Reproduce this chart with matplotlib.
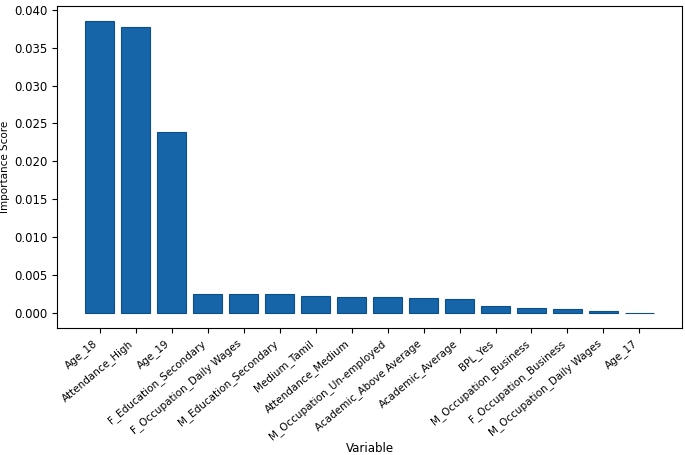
import matplotlib
matplotlib.use("Agg")
import matplotlib.pyplot as plt

variables = [
    "Age_18", "Attendance_High", "Age_19", "F_Education_Secondary",
    "F_Occupation_Daily Wages", "M_Education_Secondary", "Medium_Tamil",
    "Attendance_Medium", "M_Occupation_Un-employed", "Academic_Above Average",
    "Academic_Average", "BPL_Yes", "M_Occupation_Business",
    "F_Occupation_Business", "M_Occupation_Daily Wages", "Age_17",
]
importance = [
    0.0386, 0.0377, 0.0239, 0.0025, 0.0025, 0.0024, 0.0022, 0.0021,
    0.0021, 0.0019, 0.0018, 0.0009, 0.0006, 0.0005, 0.0002, -0.0001,
]

fig, ax = plt.subplots(figsize=(6.85, 4.55), dpi=100)
ax.bar(variables, importance, color="#1565a8", edgecolor="#0d4f8c", linewidth=0.8)
ax.set_xlabel("Variable", fontsize=8.5)
ax.xaxis.set_label_coords(0.5, -0.355)
ax.set_ylabel("Importance Score", fontsize=7.5, labelpad=3)
ax.tick_params(axis="y", labelsize=8.5)
ax.tick_params(axis="x", labelsize=7.5)
plt.setp(ax.get_xticklabels(), rotation=40, ha="right")
fig.subplots_adjust(left=0.083, right=0.996, top=0.987, bottom=0.279)
fig.savefig("out.png", dpi=100)
